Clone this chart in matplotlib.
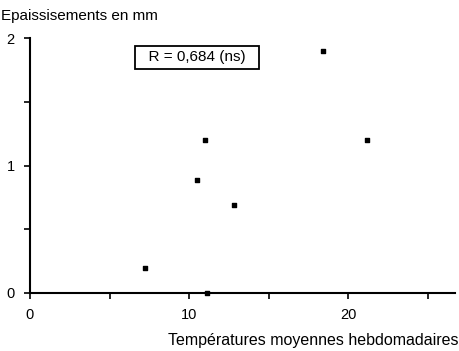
import matplotlib
matplotlib.use("Agg")
import matplotlib.pyplot as plt

plt.rcParams['font.family'] = ['Liberation Sans', 'DejaVu Sans']

temperature = [7.2, 10.5, 11.0, 11.1, 12.8, 18.4, 21.2]
epaisseur = [0.2, 0.89, 1.2, 0.0, 0.69, 1.9, 1.2]

fig = plt.figure(figsize=(4.59, 3.51), dpi=100)
ax = fig.add_axes([30 / 459, 58 / 351, 425 / 459, 255 / 351])

ax.scatter(temperature, epaisseur, marker='s', s=12, color='black', zorder=3, clip_on=False)

ax.set_xlim(0, 26.7)
ax.set_ylim(0, 2)
ax.set_xticks([0, 5, 10, 15, 20, 25])
ax.set_xticklabels(['0', '', '10', '', '20', ''])
ax.set_yticks([0, 0.5, 1, 1.5, 2])
ax.set_yticklabels(['0', '', '1', '', '2'])
for s in ['top', 'right']:
    ax.spines[s].set_visible(False)
for s in ['left', 'bottom']:
    ax.spines[s].set_linewidth(1.5)
ax.tick_params(direction='out', length=4, width=1.2, labelsize=10.5, pad=7)

ax.text(0.393, 0.925, '  R = 0,684 (ns)  ', transform=ax.transAxes, ha='center', va='center',
        fontsize=11, bbox=dict(boxstyle='square,pad=0.3', fc='white', ec='black', lw=1.3))

fig.text(1 / 459, 1 - 16 / 351, 'Epaissisements en mm', ha='left', va='center', fontsize=11)
fig.text(458 / 459, 1 - 341 / 351, 'Températures moyennes hebdomadaires', ha='right', va='center', fontsize=11.5)

fig.savefig('out.png', dpi=100)
